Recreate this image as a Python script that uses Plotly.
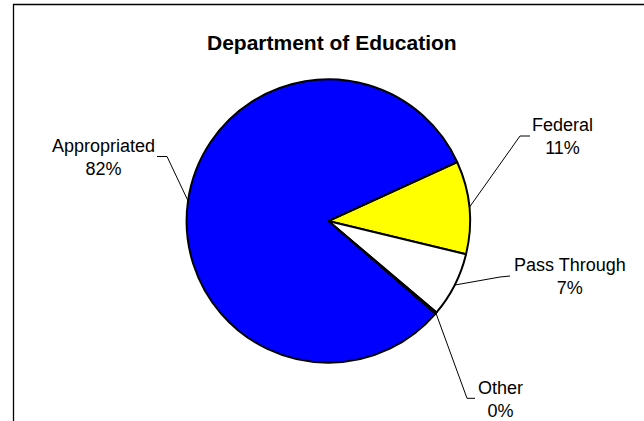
import math
import plotly.graph_objects as go

# ---- data ----
labels = ["Federal", "Pass Through", "Other", "Appropriated"]
values = [10.6, 7.4, 0.2, 81.8]
colors = ["#FFFF00", "#FFFFFF", "#FFFFFF", "#0000FF"]
title_text = "Department of Education"

# ---- layout / styling (pixels in a 644x421 canvas) ----
W, H = 644, 421
cx, cy, R = 328.3, 221.0, 141.7
rotation = 65.4
FONT = "Liberation Sans, Arial, sans-serif"

label_center = {
    "Federal": (562.6, 136.5),
    "Pass Through": (569.8, 276.5),
    "Other": (500.6, 399.5),
    "Appropriated": (103.0, 157.0),
}
label_elbow = {
    "Federal": [(530.0, 136.0), (520.0, 136.0)],
    "Pass Through": [(510.0, 276.0), (500.0, 277.0)],
    "Other": [(475.0, 398.3), (467.0, 398.3)],
    "Appropriated": [(157.0, 156.5), (167.0, 156.5)],
}


def px(x, y):
    return x / W, 1 - y / H


fig = go.Figure()
fig.add_trace(go.Pie(
    labels=labels,
    values=values,
    sort=False,
    direction="clockwise",
    rotation=rotation,
    marker=dict(colors=colors, line=dict(color="#000000", width=2)),
    textinfo="none",
    hoverinfo="skip",
    showlegend=False,
    domain=dict(x=[(cx - R) / W, (cx + R) / W], y=[1 - (cy + R) / H, 1 - (cy - R) / H]),
))

total = sum(values)
cum = 0.0
annotations = []
shapes = []
for lab, v in zip(labels, values):
    mid = (cum + v / 2) / total
    cum += v
    ang = math.radians(rotation + 360 * mid)
    ax_, ay_ = cx + R * math.sin(ang), cy - R * math.cos(ang)
    pct = round(100 * v / total)
    lx, ly = label_center[lab]
    x, y = px(lx, ly)
    annotations.append(dict(
        x=x, y=y, xref="paper", yref="paper", xanchor="center", yanchor="middle",
        text=f"{lab}<br>{pct}%", showarrow=False,
        font=dict(family=FONT, size=18, color="#000000"),
    ))
    pts = label_elbow[lab] + [(ax_, ay_)]
    for (x0, y0), (x1, y1) in zip(pts[:-1], pts[1:]):
        p0, p1 = px(x0, y0), px(x1, y1)
        shapes.append(dict(type="line", xref="paper", yref="paper",
                           x0=p0[0], y0=p0[1], x1=p1[0], y1=p1[1],
                           line=dict(color="#000000", width=1)))

tx, ty = px(332, 42)
annotations.append(dict(
    x=tx, y=ty, xref="paper", yref="paper", xanchor="center", yanchor="middle",
    text=f"<b>{title_text}</b>", showarrow=False,
    font=dict(family=FONT, size=21, color="#000000"),
))

fx0, fy0 = px(13.5, 4.5)
shapes.append(dict(type="rect", xref="paper", yref="paper",
                   x0=fx0, y0=fy0, x1=1.05, y1=-0.05,
                   line=dict(color="#000000", width=1.3), fillcolor="rgba(0,0,0,0)"))

fig.update_layout(
    width=W, height=H,
    margin=dict(l=0, r=0, t=0, b=0),
    paper_bgcolor="#FFFFFF",
    plot_bgcolor="#FFFFFF",
    annotations=annotations,
    shapes=shapes,
    showlegend=False,
)

fig.write_html(
    "out.html",
    config={"displayModeBar": False, "staticPlot": True},
    post_script="document.body.style.margin='0';document.body.style.overflow='hidden';",
)
